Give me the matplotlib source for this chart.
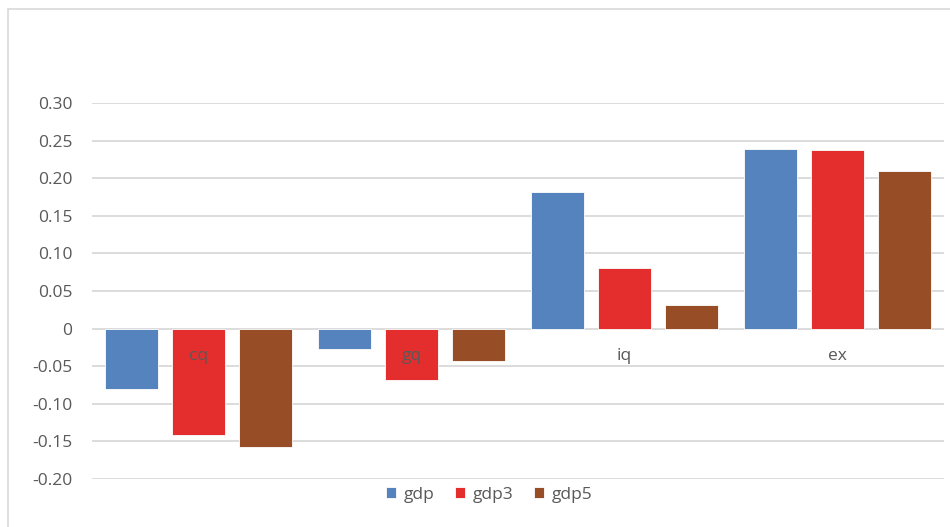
import matplotlib.pyplot as plt
from matplotlib.patches import Rectangle
import numpy as np

categories = ['cq', 'gq', 'iq', 'ex']
gdp = [-0.080, -0.027, 0.182, 0.239]
gdp3 = [-0.142, -0.068, 0.081, 0.237]
gdp5 = [-0.158, -0.043, 0.031, 0.209]

series = [('gdp', gdp, '#5583BE'), ('gdp3', gdp3, '#E42E2E'), ('gdp5', gdp5, '#974D25')]
yticks = [-0.20, -0.15, -0.10, -0.05, 0, 0.05, 0.10, 0.15, 0.20, 0.25, 0.30]
yticklabels = ['-0.20', '-0.15', '-0.10', '-0.05', '0', '0.05', '0.10', '0.15', '0.20', '0.25', '0.30']

plt.rcParams['font.family'] = ['Open Sans', 'DejaVu Sans']
text_grey = '#595959'

fig = plt.figure(figsize=(9.5, 5.27), dpi=100)
ax = fig.add_axes([92 / 950, 1 - 479 / 527, (944 - 92) / 950, (479 - 103) / 527])

# chart area border
fig.patches.append(Rectangle((8 / 950, -0.01), 1.0, 1 - 9 / 527 + 0.01, transform=fig.transFigure,
                             fill=False, edgecolor='#d9d9d9', linewidth=1.2))

x = np.arange(len(categories))
offsets = [-0.315, 0, 0.315]
for (name, vals, col), off in zip(series, offsets):
    ax.bar(x + off, vals, width=0.25, color=col, edgecolor='#ffffff', linewidth=0.6,
           label=name, zorder=2)

ax.set_xlim(-0.5, len(categories) - 0.5)
ax.set_ylim(-0.20, 0.30)
ax.set_yticks(yticks)
ax.set_yticklabels(yticklabels, color=text_grey, fontsize=12.5)
ax.tick_params(axis='y', length=0, pad=14)
ax.set_xticks([])
ax.yaxis.grid(True, color='#d9d9d9', linewidth=1.3, zorder=0)
ax.set_axisbelow(True)
for s in ax.spines.values():
    s.set_visible(False)

# category names sit just under the zero line
for i, c in enumerate(categories):
    ax.annotate(c, (i, 0), xytext=(0, -20), textcoords='offset points', ha='center', va='center',
                color=text_grey, fontsize=12.5, zorder=5)

fig.legend(loc='center', bbox_to_anchor=(489 / 950, 1 - 495 / 527), ncol=3, frameon=False,
           fontsize=12.5, labelcolor=text_grey, handlelength=0.6, handleheight=0.6,
           handletextpad=0.4, columnspacing=1.2)

fig.savefig('out.png', dpi=100)
